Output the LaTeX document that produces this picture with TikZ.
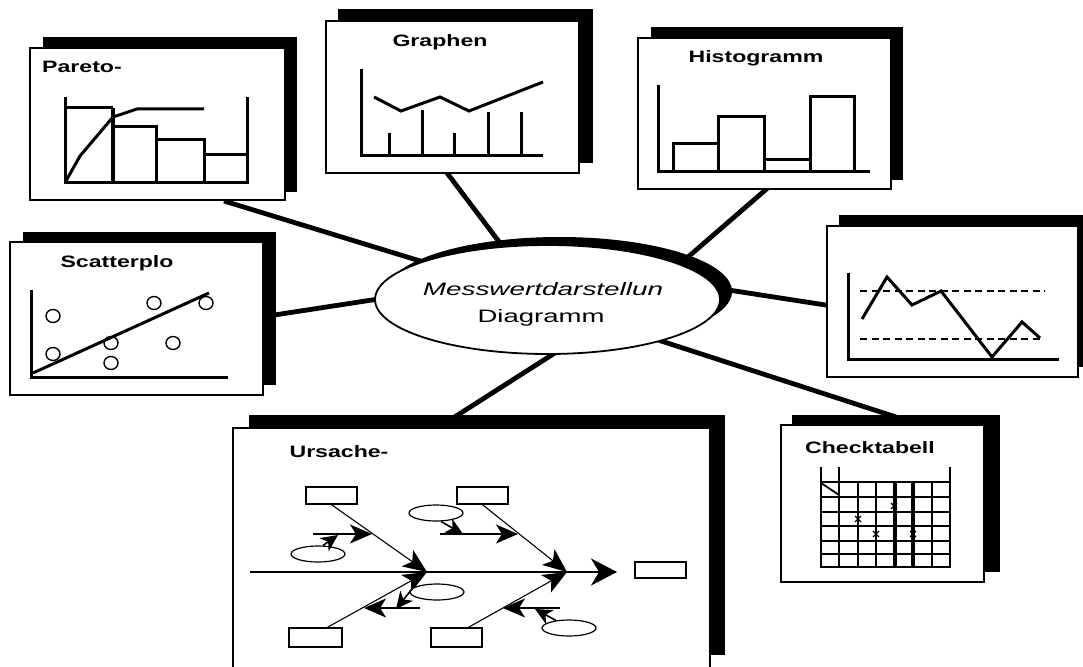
\documentclass[tikz,border=0pt]{standalone}
\usepackage{fontspec}
\setmainfont{Liberation Sans}
\usepackage{graphicx}
\usetikzlibrary{arrows.meta, shapes.geometric}

% horizontally stretched lettering
\newcommand{\wide}[2]{\scalebox{#1}[1]{#2}}

% framed panel with a solid black backing plate
% #1 name; #2-#5 panel corners; #6-#9 plate corners
\newcommand{\panelbox}[9]{%
  \fill[black] (#6,#7) rectangle (#8,#9);
  \node[panel, minimum width={(#4)-(#2)}, minimum height={(#5)-(#3)}]
    (#1) at ({(#2+#4)/2},{(#3+#5)/2}) {};
}

\tikzset{
  panel/.style={rectangle, draw=black, fill=white, line width=2.7pt, inner sep=0pt},
  link/.style={line width=4.8pt},
  chart/.style={line width=3pt},
  title/.style={inner sep=0pt, anchor=base, font=\bfseries\fontsize{16.5}{18}\selectfont},
  hubtext/.style={inner sep=0pt, anchor=base, font=\fontsize{18}{22}\selectfont},
  hub/.style={ellipse, draw=black, fill=white, line width=1.8pt, inner sep=0pt,
    minimum width=345pt, minimum height=109pt},
  cell/.style={rectangle, draw=black, fill=white, line width=1.4pt, inner sep=0pt},
  bubble/.style={ellipse, draw=black, fill=white, line width=1.2pt, inner sep=0pt,
    minimum width=54pt, minimum height=16pt},
  spine/.style={line width=2.6pt},
  bone/.style={line width=1.1pt},
  twig/.style={line width=1.6pt},
  big head/.style={-{Stealth[length=26pt, width=27pt, inset=8pt]}},
  bone head/.style={-{Stealth[length=24pt, width=20pt, inset=6pt]}},
  twig head/.style={-{Stealth[length=22pt, width=19pt, inset=6pt]}},
  small head/.style={-{Stealth[length=17pt, width=16pt, inset=5pt]}},
  grid/.style={line width=2.6pt},
  heavy grid/.style={line width=4pt},
  level/.style={line width=2.3pt, dash pattern=on 7pt off 4.5pt},
  dot/.style={line width=1.4pt},
}

\begin{document}
\begin{tikzpicture}[x=1pt, y=-1pt]
\useasboundingbox (0,0) rectangle (1083,666);
\clip (0,0) rectangle (1083,666);
\fill[white] (0,0) rectangle (1083,666);

% ---------- connector end points ----------
\coordinate (c-pareto)  at (224,201);
\coordinate (h-pareto)  at (430,264);
\coordinate (c-scatter) at (268,316);
\coordinate (h-scatter) at (385,298);
\coordinate (c-graphen) at (444,169);
\coordinate (h-graphen) at (503,247);
\coordinate (c-histo)   at (770,186);
\coordinate (h-histo)   at (688,257);
\coordinate (c-control) at (832,306);
\coordinate (h-control) at (722,289);
\coordinate (c-check)   at (896,417);
\coordinate (h-check)   at (655,339);
\coordinate (c-ursache) at (453,418);
\coordinate (h-ursache) at (558,351);

\draw[link] (c-pareto)  -- (h-pareto);
\draw[link] (c-scatter) -- (h-scatter);
\draw[link] (c-graphen) -- (h-graphen);
\draw[link] (c-histo)   -- (h-histo);
\draw[link] (c-control) -- (h-control);
\draw[link] (c-check)   -- (h-check);
\draw[link] (c-ursache) -- (h-ursache);

% ---------- central hub ----------
\fill[black] (559.5,291.5) ellipse [x radius=172.5, y radius=54.5];
\node[hub] (hub) at (547.5,299.5) {};
\node[hubtext, font=\fontsize{18}{22}\selectfont\itshape] (hub-line1) at (543,295) {\wide{1.55}{Messwertdarstellun}};
\node[hubtext] (hub-line2) at (541,322) {\wide{1.53}{Diagramm}};

% ---------- Pareto ----------
\panelbox{pareto}{30}{48}{285}{200}{43}{37}{297}{192}
\node[title] (pareto-title) at (82,73) {\wide{1.4}{Pareto-}};
\draw[chart] (65,97) -- (65,182) -- (247,182) -- (247,97);
\draw[chart] (65,108) -- (113,108);
\draw[line width=4pt] (113,108) -- (113,182);
\draw[chart] (113,126) -- (156,126) -- (156,182);
\draw[chart] (156,139) -- (204,139) -- (204,182);
\draw[chart] (204,154) -- (247,154);
\draw[chart] (66,181) -- (80,156) -- (113,117) -- (137,109) -- (204,109);

% ---------- Graphen ----------
\panelbox{graphen}{326}{21}{579}{173}{338}{9}{593}{163}
\node[title] (graphen-title) at (440,47) {\wide{1.4}{Graphen}};
\draw[chart] (361,69) -- (361,155) -- (543,155);
\foreach \x/\t in {389/133, 422/110, 454/133, 488/112, 521/112}
  \draw[chart] (\x,155) -- (\x,\t);
\draw[chart] (374,97) -- (401,111) -- (440,97) -- (469,111) -- (543,82);

% ---------- Histogramm ----------
\panelbox{histo}{638}{38}{891}{189}{651}{27}{903}{180}
\node[title] (histo-title) at (756,63) {\wide{1.4}{Histogramm}};
\draw[chart] (658,85) -- (658,171) -- (870,171);
\draw[chart] (673,171) rectangle (718,143);
\draw[chart] (718,171) rectangle (764,117);
\draw[chart] (764,171) rectangle (810,159);
\draw[chart] (810,171) rectangle (854,97);

% ---------- Scatterplot ----------
\panelbox{scatter}{10}{242}{263}{395}{23}{232}{276}{385}
\node[title] (scatter-title) at (117,267) {\wide{1.4}{Scatterplo}};
\draw[chart] (31,290) -- (31,377) -- (228,377);
\draw[chart] (33,373) -- (209,293);
\foreach \px/\py in {53/316, 53/354, 111/343, 111/363, 154/303, 173/343, 206/303}
  \draw[dot] (\px,\py) ellipse [x radius=7, y radius=6.5];

% ---------- control chart ----------
\panelbox{control}{827}{226}{1078}{377}{839}{215}{1092}{367}
\draw[chart] (848,273) -- (848,359) -- (1059,359);
\draw[level] (860,291) -- (1045,291);
\draw[level] (860,339) -- (1041,339);
\draw[chart] (862,319) -- (887,277) -- (912,305) -- (941,291) -- (992,357) -- (1022,322) -- (1040,338);

% ---------- Checktabell ----------
\panelbox{check}{781}{425}{984}{582}{792}{415}{1000}{572}
\node[title] (check-title) at (870,453) {\wide{1.4}{Checktabell}};
\foreach \x in {821,839,858,876,932,950}
  \draw[grid] (\x,482) -- (\x,567);
\foreach \x in {895,913}
  \draw[heavy grid] (\x,482) -- (\x,567);
\foreach \y in {482,497,512,526,541,554,567}
  \draw[grid] (819.7,\y) -- (951.3,\y);
\draw[grid] (821,467) -- (821,482);
\draw[grid] (839,467) -- (839,482);
\draw[grid] (950,467) -- (950,482);
\draw[line width=1.8pt] (821,483) -- (839,495);
\foreach \px/\py in {894/506, 858/519, 876/534, 913/534}
  \draw[line width=1.2pt] (\px-3,\py-3) -- (\px+3,\py+3) (\px-3,\py+3) -- (\px+3,\py-3);

% ---------- cause and effect ----------
\panelbox{ursache}{233}{428}{710}{680}{249}{415}{725}{655}
\node[title] (ursache-title) at (339,457) {\wide{1.4}{Ursache-}};

\node[cell, minimum width=51pt, minimum height=16pt] (effect) at (660.5,570) {};
\node[cell, minimum width=51pt, minimum height=17pt] (cause-tl) at (331.5,495.5) {};
\node[cell, minimum width=51pt, minimum height=17pt] (cause-tr) at (482.5,495.5) {};
\node[cell, minimum width=53pt, minimum height=19pt] (cause-bl) at (315.5,637.5) {};
\node[cell, minimum width=51pt, minimum height=19pt] (cause-br) at (456.5,637.5) {};

\coordinate (spine-start) at (250,572);
\coordinate (spine-end)   at (617,572);
\coordinate (joint-l)     at (427,572);
\coordinate (joint-r)     at (567,572);

\draw[spine, big head] (spine-start) -- (spine-end);
\draw[bone, bone head] (cause-tl.south) -- (joint-l);
\draw[bone, bone head] (cause-tr.south) -- (joint-r);
\draw[bone, bone head] ([xshift=12pt]cause-bl.north) -- (joint-l);
\draw[bone, bone head] ([xshift=12pt]cause-br.north) -- (joint-r);

\draw[twig, twig head] (313,534) -- (372,534);
\draw[twig, twig head] (440,534) -- (518,534);
\draw[twig, twig head] (420,608) -- (364,608);
\draw[twig, twig head] (560,608) -- (503,608);

\node[bubble] (bubble-tl) at (318,554) {};
\node[bubble] (bubble-tr) at (436,513) {};
\node[bubble] (bubble-ml) at (437,592) {};
\node[bubble] (bubble-br) at (569,628) {};

\draw[twig, small head] (bubble-tl.60) -- (338,535);
\draw[twig, small head] (bubble-tr.-60) -- (463,534);
\draw[twig, small head] (bubble-ml.170) -- (396,609);
\draw[twig, small head] (bubble-br.150) -- (535,609);

\end{tikzpicture}
\end{document}
